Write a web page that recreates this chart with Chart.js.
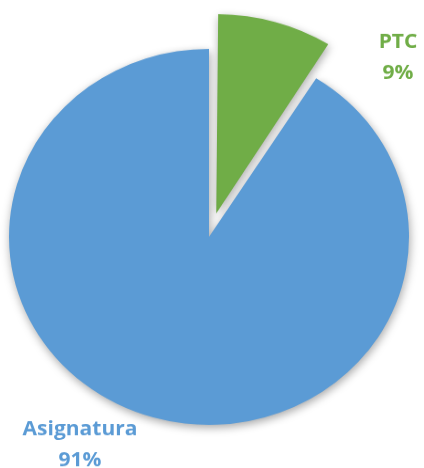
<!DOCTYPE html>
<html>
<head>
<meta charset="utf-8">
<script src="https://cdn.jsdelivr.net/npm/chart.js@4/dist/chart.umd.min.js"></script>
<style>
  html, body { margin: 0; padding: 0; background: #fff; overflow: hidden; }
  #wrap { width: 424px; height: 498px; transform: scaleY(0.94); transform-origin: 0 0; }
</style>
</head>
<body>
<div id="wrap"><canvas id="myChart" width="424" height="498"></canvas></div>
<script>
const categories = ['PTC', 'Asignatura'];
const percents = [9, 91];
const colors = ['#70AD47', '#5B9BD5'];
// chart.js moves a slice by about offset*0.37 for a thin slice, so 104 ~ 38px
const offsets = [104, 0];

// label anchor points (chart pixels) for each slice
const labelPos = [{x: 398, y: 51}, {x: 80, y: 463}];

// soft drop shadow like the office chart
const shadowPlugin = {
    id: 'shadow',
    beforeDatasetsDraw(chart) {
        const ctx = chart.ctx;
        ctx.save();
        ctx.shadowColor = 'rgba(0,0,0,0.35)';
        ctx.shadowBlur = 10;
        ctx.shadowOffsetX = 1;
        ctx.shadowOffsetY = 3;
    },
    afterDatasetsDraw(chart) {
        chart.ctx.restore();
    }
};

const outLabels = {
    id: 'outLabels',
    afterDraw(chart) {
        const ctx = chart.ctx;
        ctx.save();
        ctx.font = 'bold 21px "Open Sans"';
        ctx.textAlign = 'center';
        ctx.textBaseline = 'alphabetic';
        categories.forEach((c, i) => {
            ctx.fillStyle = colors[i];
            ctx.fillText(c, labelPos[i].x, labelPos[i].y);
            ctx.fillText(percents[i] + '%', labelPos[i].x, labelPos[i].y + 33);
        });
        ctx.restore();
    }
};

const ctx = document.getElementById('myChart').getContext('2d');
const myChart = new Chart(ctx, {
    type: 'pie',
    data: {
        labels: categories,
        datasets: [{
            data: percents,
            backgroundColor: colors,
            borderWidth: 0,
            offset: offsets,
            hoverOffset: 0,
            radius: 200
        }]
    },
    options: {
        responsive: false,
        animation: false,
        events: [],
        layout: { padding: { left: 0, right: 6, top: 6, bottom: 0 } },
        plugins: {
            legend: { display: false },
            tooltip: { enabled: false }
        }
    },
    plugins: [shadowPlugin, outLabels]
});
</script>
</body>
</html>
